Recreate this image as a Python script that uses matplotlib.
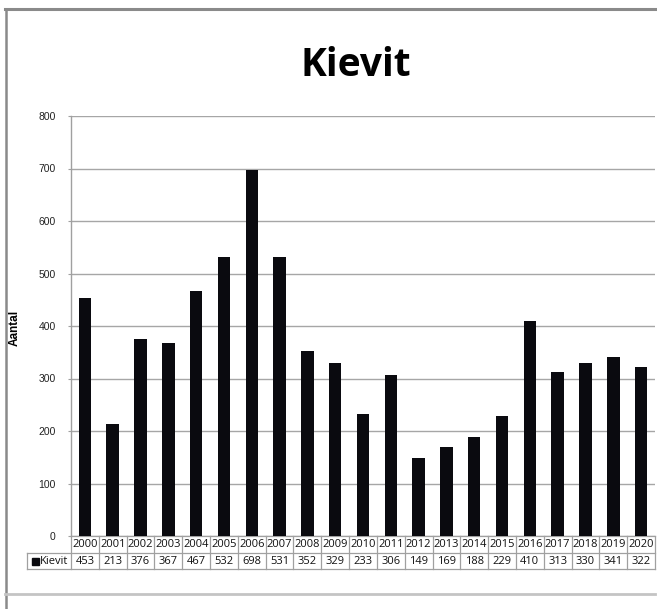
import matplotlib.pyplot as plt
from matplotlib.lines import Line2D
from matplotlib.patches import Rectangle
from matplotlib.transforms import blended_transform_factory

years = [str(y) for y in range(2000, 2021)]
counts = [453, 213, 376, 367, 467, 532, 698, 531, 352, 329, 233, 306,
          149, 169, 188, 229, 410, 313, 330, 341, 322]
series_name = "Kievit"
y_ticks = [0, 100, 200, 300, 400, 500, 600, 700, 800]

W, H = 657, 609
fig = plt.figure(figsize=(W / 100, H / 100), dpi=100)

# outer frame
fig.add_artist(Line2D([5 / W, 1], [1 - 9 / H, 1 - 9 / H], color="#8a8a8a", lw=2.2))
fig.add_artist(Line2D([5.5 / W, 5.5 / W], [0, 1 - 9 / H], color="#8a8a8a", lw=1.8))
fig.add_artist(Line2D([5 / W, 655 / W], [1 - 594 / H, 1 - 594 / H], color="#c4c4c4", lw=2))

left, right, top, bottom = 71, 655, 116, 536
ax = fig.add_axes([left / W, 1 - bottom / H, (right - left) / W, (bottom - top) / H])

n = len(years)
x = list(range(n))
ax.bar(x, counts, width=0.45, color="#0a0a0f", zorder=3)
ax.set_xlim(-0.5, n - 0.5)
ax.set_ylim(0, 800)
ax.set_yticks(y_ticks)
ax.set_yticklabels([str(t) for t in y_ticks], fontsize=7.5, family="Liberation Sans", color="#222222")
ax.tick_params(axis="y", length=2, width=0.8, color="#a0a0a0", pad=9)
ax.set_xticks([])
ax.grid(axis="y", color="#a6a6a6", lw=1, zorder=0)
for s in ["top", "right", "bottom"]:
    ax.spines[s].set_visible(False)
ax.spines["left"].set_color("#a0a0a0")
ax.spines["left"].set_linewidth(1)

fig.text(15 / W, 1 - 328 / H, "Aantal", rotation=90, ha="center", va="center",
         fontsize=8.5, fontweight="bold", family="Liberation Sans")

fig.text(356 / W, 1 - 66 / H, series_name, ha="center", va="center",
         fontsize=28, fontweight="bold", family="Open Sans")

# data table under the bars, drawn by hand: x in data units, y in axes units
ph = bottom - top
colw = (right - left) / n
tr = blended_transform_factory(ax.transData, ax.transAxes)


def ya(py):
    return (bottom - py) / ph


y0, y1, y2 = ya(536), ya(553), ya(569)
xl = -0.5 - (left - 27) / colw
xr = n - 0.5
kw = dict(transform=tr, clip_on=False, color="#a0a0a0", lw=0.9)
ax.add_line(Line2D([-0.5, xr], [y0, y0], **kw))
ax.add_line(Line2D([xl, xr], [y1, y1], **kw))
ax.add_line(Line2D([xl, xr], [y2, y2], **kw))
ax.add_line(Line2D([xl, xl], [y1, y2], **kw))
for i in range(n + 1):
    ax.add_line(Line2D([i - 0.5, i - 0.5], [y0, y2], **kw))

tkw = dict(transform=tr, ha="center", va="center", fontsize=8,
           family="Open Sans", color="#111111", clip_on=False)
for i, (yr, c) in enumerate(zip(years, counts)):
    ax.text(i, (y0 + y1) / 2, yr, **tkw)
    ax.text(i, (y1 + y2) / 2, str(c), **tkw)

sq = 7 / colw
ax.add_patch(Rectangle((xl + 5 / colw, (y1 + y2) / 2 - 3.5 / ph), sq, 7 / ph,
                       transform=tr, clip_on=False, color="#0a0a0f"))
ax.text(xl + 13 / colw, (y1 + y2) / 2, series_name, transform=tr, ha="left",
        va="center", fontsize=8, family="Open Sans", color="#111111", clip_on=False)

fig.savefig("out.png", dpi=100)
